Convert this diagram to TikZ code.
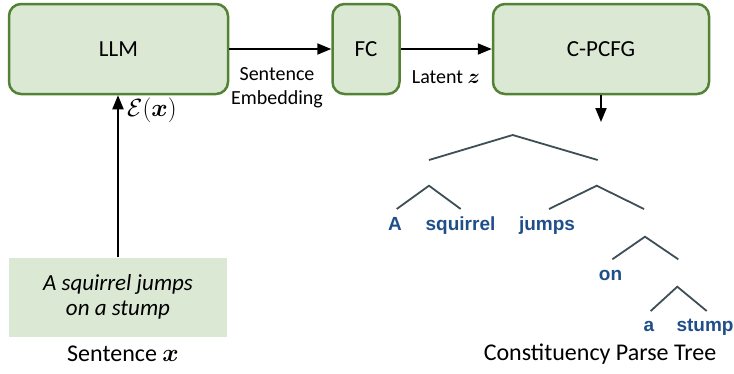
\documentclass[tikz,border=0pt]{standalone}
\usepackage{amsmath,bm}
\usepackage{fontspec}
\setmainfont{Carlito}
\newfontfamily\treefont{Liberation Sans}
\usetikzlibrary{arrows.meta}
\definecolor{boxfill}{RGB}{218,232,212}
\definecolor{boxline}{RGB}{84,130,53}
\definecolor{treeblue}{RGB}{31,78,136}
\definecolor{treeline}{RGB}{62,78,86}
\begin{document}
\begin{tikzpicture}[x=1pt,y=-1pt,
  blk/.style={draw=boxline,fill=boxfill,line width=2.5pt,rounded corners=12pt,font=\fontsize{23}{27}\selectfont,inner sep=0pt},
  arr/.style={line width=2pt,-{Triangle[length=14pt,width=11pt]}},
  lbl/.style={font=\fontsize{20}{24}\selectfont,align=center,inner sep=0pt},
  word/.style={font=\treefont\bfseries\fontsize{19}{21}\selectfont,text=treeblue,anchor=base,inner sep=0pt},
  br/.style={draw=treeline,line width=1.8pt}]
\useasboundingbox (0,0) rectangle (734,373);
% boxes
\node[blk,minimum width=219pt,minimum height=90pt] (llm) at (118.5,49) {LLM};
\node[blk,minimum width=67pt,minimum height=90pt] (fc) at (366,49) {FC};
\node[blk,minimum width=216pt,minimum height=90pt] (cp) at (601,49) {C-PCFG};
\node[fill=boxfill,minimum width=218pt,minimum height=79pt,inner sep=0pt,align=center,
      font=\itshape\fontsize{23}{25}\selectfont] (sent) at (118,297) {A squirrel jumps\\on a stump};
% arrows
\draw[arr] (llm.east) -- (fc.west);
\draw[arr] (fc.east) -- (cp.west);
\draw[arr] (sent.north) -- (sent.north |- llm.south);
\coordinate (cpend) at (601,122);
\draw[arr] (cp.south) -- (cpend);
% labels
\node[lbl] (emb) at (277,88) {Sentence\\Embedding};
\node[lbl] (lat) at (446,77) {Latent $\bm{z}$};
\node[font=\fontsize{26}{30}\selectfont,anchor=west,inner sep=0pt] (enc) at (127,110) {$\mathcal{E}(\bm{x})$};
\node[font=\fontsize{24}{28}\selectfont,inner sep=0pt] (sx) at (123,354) {Sentence $\bm{x}$};
\node[font=\fontsize{24}{28}\selectfont,inner sep=0pt] (cpt) at (600,354) {Constituency Parse Tree};
% tree
\draw[br] (429,160) -- (512.7,135) -- (597.7,160);
\draw[br] (396.7,209) -- (429,185.7) -- (460.7,209);
\draw[br] (549,209) -- (596.7,185.7) -- (644,209);
\draw[br] (612.3,259.3) -- (645,236.7) -- (678.3,259.3);
\draw[br] (650.7,311) -- (677.3,286.7) -- (706.7,311);
\node[word] (wa) at (395,230) {A};
\node[word] (wsq) at (460.5,230) {squirrel};
\node[word] (wj) at (547,230) {jumps};
\node[word] (won) at (610.5,280) {on};
\node[word] (wa2) at (649,331.7) {a};
\node[word] (wst) at (705,331.7) {stump};
\end{tikzpicture}
\end{document}
